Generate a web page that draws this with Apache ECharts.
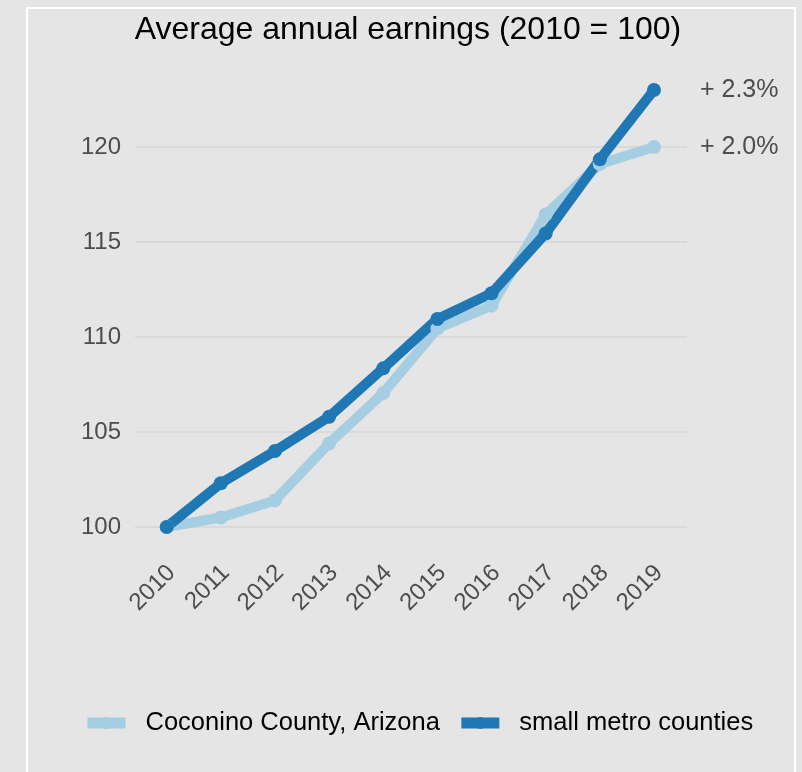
<!DOCTYPE html>
<html>
<head>
<meta charset="utf-8">
<script src="https://cdn.jsdelivr.net/npm/echarts@6/dist/echarts.min.js"></script>
<style>
  html, body { margin: 0; padding: 0; background: #e5e5e5; }
  #chart { width: 802px; height: 772px; }
</style>
</head>
<body>
<div id="chart"></div>
<script>
// Average annual earnings index, 2010 = 100
const years = [2010, 2011, 2012, 2013, 2014, 2015, 2016, 2017, 2018, 2019];
const coconino = [100, 100.5, 101.4, 104.4, 107.05, 110.45, 111.65, 116.45, 119.1, 120.0];
const smallMetro = [100, 102.3, 104.0, 105.8, 108.35, 110.95, 112.3, 115.45, 119.35, 123.0];
const seriesNames = ['Coconino County, Arizona', 'small metro counties'];
const growthLabels = ['+ 2.0%', '+ 2.3%'];
const yTicks = [100, 105, 110, 115, 120];

const FONT = '"Liberation Sans", Arial, sans-serif';
const LIGHT = '#a6cee3';
const DARK = '#1f78b4';

const pairs = vals => years.map((y, i) => [y, vals[i]]);

function lineSeries(name, vals, color, growth) {
  return {
    name: name,
    type: 'line',
    data: pairs(vals),
    clip: false,
    symbol: 'circle',
    symbolSize: 14,
    lineStyle: { color: color, width: 10 },
    itemStyle: { color: color },
    endLabel: {
      show: true,
      formatter: growth,
      distance: 46,
      color: '#4d4d4d',
      fontFamily: FONT,
      fontSize: 25
    },
    emphasis: { disabled: true }
  };
}

const chart = echarts.init(document.getElementById('chart'), null, { renderer: 'canvas' });
chart.setOption({
  animation: false,
  backgroundColor: '#e5e5e5',
  title: {
    text: 'Average annual earnings (2010 = 100)',
    left: 403,
    top: 9,
    textAlign: 'center',
    textStyle: { color: '#000', fontFamily: FONT, fontSize: 32, fontWeight: 'normal' }
  },
  graphic: [{
    type: 'rect',
    shape: { x: 27, y: 8, width: 768, height: 800 },
    style: { fill: 'none', stroke: '#ffffff', lineWidth: 2 },
    silent: true
  }],
  grid: { left: 135, right: 115, top: 71, bottom: 245 },
  xAxis: {
    type: 'value',
    min: 2009.415,
    max: 2019.61,
    axisLine: { show: false },
    axisTick: { show: false },
    splitLine: { show: false },
    axisLabel: {
      customValues: years,
      rotate: 45,
      margin: 47,
      padding: [0, -7, 0, 0],
      color: '#4d4d4d',
      fontFamily: FONT,
      fontSize: 24,
      formatter: v => String(v)
    }
  },
  yAxis: {
    type: 'value',
    min: 100,
    max: 124,
    interval: 5,
    axisLine: { show: false },
    axisTick: { show: false },
    splitLine: { show: true, showMaxLine: false, lineStyle: { color: '#d9d9d9', width: 2 } },
    axisLabel: {
      customValues: yTicks,
      margin: 14,
      color: '#4d4d4d',
      fontFamily: FONT,
      fontSize: 24
    }
  },
  legend: {
    left: 82,
    top: 710,
    padding: 0,
    itemWidth: 38,
    itemHeight: 15,
    itemGap: 16,
    lineStyle: { width: 11 },
    textStyle: { color: '#000', fontFamily: FONT, fontSize: 25.5, padding: [0, 0, 0, 15] },
    data: seriesNames
  },
  series: [
    lineSeries(seriesNames[0], coconino, LIGHT, growthLabels[0]),
    lineSeries(seriesNames[1], smallMetro, DARK, growthLabels[1])
  ]
});
</script>
</body>
</html>
